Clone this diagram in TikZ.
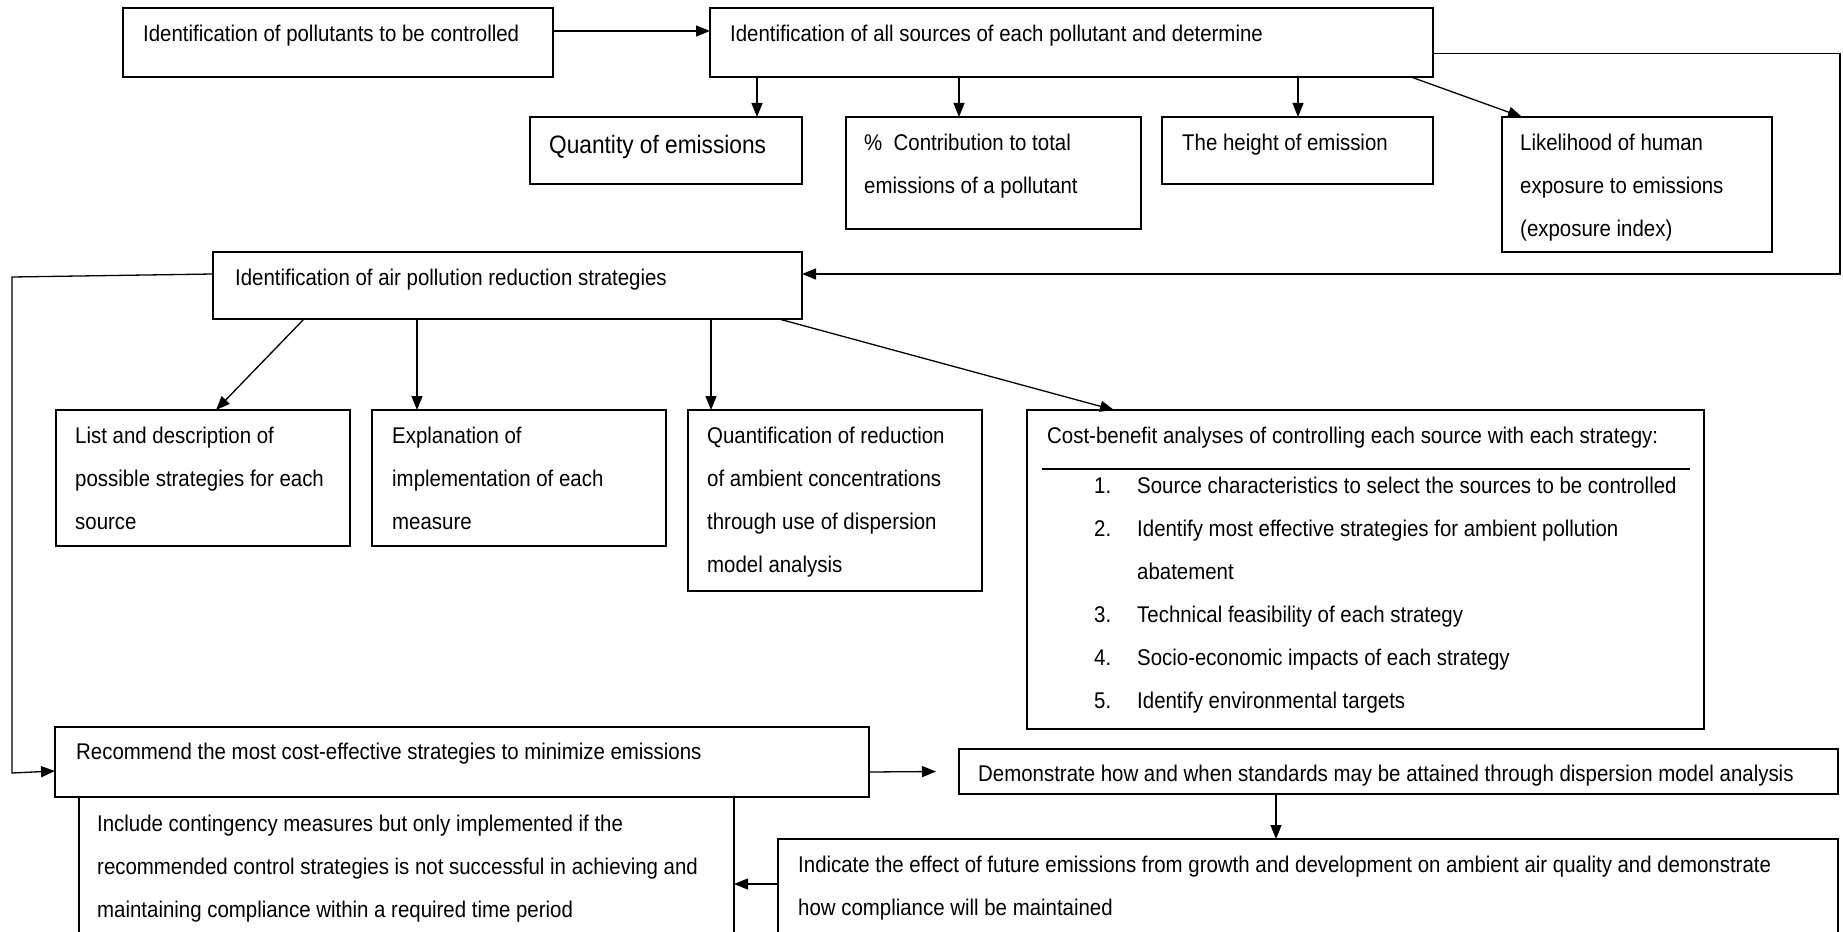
\documentclass[tikz,border=0pt]{standalone}
\usepackage{fontspec}
\setmainfont{Liberation Sans}[FakeStretch=0.9]
\usetikzlibrary{arrows.meta}

\tikzset{
  box/.style={draw, line width=1.5pt, anchor=north west, inner sep=0pt, outer sep=0pt},
  txt/.style={anchor=north west, inner sep=0pt, align=left, font=\fontsize{22.7}{43}\selectfont},
  item/.style={anchor=base west, inner sep=0pt, font=\fontsize{22.7}{43}\selectfont},
  link/.style={line width=1.3pt, -{Triangle[length=14pt, width=11pt]}}
}

\begin{document}
\begin{tikzpicture}[x=1pt, y=-1pt]
  \useasboundingbox (0,0) rectangle (1843,931);
  \clip (0,0) rectangle (1843,931);

  % pollutants and their sources
  \node[box, minimum width=430pt, minimum height=69pt] (poll) at (123,8) {};
  \node[txt] at ([shift={(20,17)}]poll.north west) {Identification of pollutants to be controlled};
  \node[box, minimum width=723pt, minimum height=69pt] (sources) at (710,8) {};
  \node[txt] at ([shift={(20,17)}]sources.north west) {Identification of all sources of each pollutant and determine};

  \node[box, minimum width=272pt, minimum height=67pt] (qty) at (530,117) {};
  \node[txt, font=\fontsize{25.2}{30}\selectfont] at ([shift={(19,18)}]qty.north west) {Quantity of emissions};
  \node[box, minimum width=295pt, minimum height=112pt] (contrib) at (846,117) {};
  \node[txt] at ([shift={(18,17)}]contrib.north west) {\%\ \ Contribution to total\\emissions of a pollutant};
  \node[box, minimum width=271pt, minimum height=67pt] (height) at (1162,117) {};
  \node[txt] at ([shift={(20,17)}]height.north west) {The height of emission};
  \node[box, minimum width=270pt, minimum height=135pt] (likely) at (1502,117) {};
  \node[txt] at ([shift={(18,17)}]likely.north west) {Likelihood of human\\exposure to emissions\\(exposure index)};

  % strategies
  \node[box, minimum width=589pt, minimum height=67pt] (strat) at (213,252) {};
  \node[txt] at ([shift={(22,17)}]strat.north west) {Identification of air pollution reduction strategies};

  \node[box, minimum width=294pt, minimum height=136pt] (list) at (56,410) {};
  \node[txt] at ([shift={(19,17)}]list.north west) {List and description of\\possible strategies for each\\source};
  \node[box, minimum width=294pt, minimum height=136pt] (expl) at (372,410) {};
  \node[txt] at ([shift={(20,17)}]expl.north west) {Explanation of\\implementation of each\\measure};
  \node[box, minimum width=294pt, minimum height=181pt] (quant) at (688,410) {};
  \node[txt] at ([shift={(19,17)}]quant.north west) {Quantification of reduction\\of ambient concentrations\\through use of dispersion\\model analysis};
  \node[box, minimum width=677pt, minimum height=319pt] (cost) at (1027,410) {};
  \node[txt] at ([shift={(20,17)}]cost.north west) {Cost-benefit analyses of controlling each source with each strategy:};
  \draw[line width=2pt] ([shift={(15,59)}]cost.north west) -- ++(648,0);
  \foreach \n/\t [count=\i] in {1./Source characteristics to select the sources to be controlled,
      2./Identify most effective strategies for ambient pollution, /abatement,
      3./Technical feasibility of each strategy, 4./Socio-economic impacts of each strategy,
      5./Identify environmental targets} {
    \node[item] at ([shift={(67,{40+43*\i})}]cost.north west) {\n};
    \node[item] at ([shift={(110,{40+43*\i})}]cost.north west) {\t};
  }

  % recommendations
  \node[box, minimum width=814pt, minimum height=70pt] (rec) at (55,727) {};
  \node[txt] at ([shift={(21,16)}]rec.north west) {Recommend the most cost-effective strategies to minimize emissions};
  \node[box, minimum width=655pt, minimum height=150pt] (cont) at (79,797) {};
  \node[txt] at ([shift={(18,18)}]cont.north west) {Include contingency measures but only implemented if the\\recommended control strategies is not successful in achieving and\\maintaining compliance within a required time period};
  \node[box, minimum width=879pt, minimum height=45pt] (demo) at (959,749) {};
  \node[txt] at ([shift={(19,16)}]demo.north west) {Demonstrate how and when standards may be attained through dispersion model analysis};
  \node[box, minimum width=1060pt, minimum height=110pt] (ind) at (778,839) {};
  \node[txt] at ([shift={(20,17)}]ind.north west) {Indicate the effect of future emissions from growth and development on ambient air quality and demonstrate\\how compliance will be maintained};

  % connectors
  \draw[link] ([yshift=-23pt]poll.north east) -- ([yshift=-23pt]sources.north west);
  \foreach \x/\t in {757/qty, 959/contrib, 1298/height}
    \draw[link] (sources.south -| \x,0) -- (\t.north -| \x,0);
  \draw[link] (sources.south -| 1411,0) -- (likely.north -| 1522,0);
  \draw[link] ([yshift=-11pt]sources.east) -| (1840,274) -- (strat.east |- 0,274);

  \foreach \a/\b/\t in {304/216/list, 417/417/expl, 711/711/quant, 779/1114/cost}
    \draw[link] (strat.south -| \a,0) -- (\t.north -| \b,0);
  \draw[link] ([yshift=11.5pt]strat.west) -- (12,277) -- (12,773) -- ([yshift=-9pt]rec.west);

  \draw[link] ([yshift=-10pt]rec.east) -- ([xshift=-23pt]demo.west);
  \draw[link] (demo.south -| 1276,0) -- (ind.north -| 1276,0);
  \draw[link] (ind.west |- 0,884) -- (cont.east |- 0,884);
\end{tikzpicture}
\end{document}
